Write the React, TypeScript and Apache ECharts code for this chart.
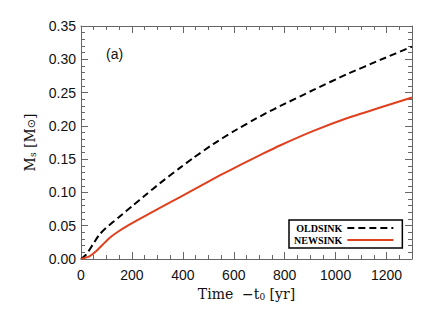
import React, { useEffect, useRef } from "react";
import * as echarts from "echarts";

// Time - t0 [yr] and sink mass [Msun]
const oldTimes = [0, 20, 46, 72, 98, 151, 204, 256, 309, 387, 440, 519, 598, 676, 729, 781, 913, 1044, 1175, 1300];
const oldMass = [0.0, 0.0065, 0.0215, 0.0365, 0.0465, 0.0635, 0.0805, 0.097, 0.1135, 0.1365, 0.1515, 0.1725, 0.1915, 0.2085, 0.2195, 0.2295, 0.254, 0.2775, 0.299, 0.319];
const newTimes = [0, 33, 59, 85, 112, 138, 190, 256, 335, 387, 466, 545, 624, 703, 781, 913, 1044, 1175, 1300];
const newMass = [0.0, 0.004, 0.0115, 0.0215, 0.0315, 0.039, 0.0515, 0.0655, 0.082, 0.0925, 0.109, 0.1255, 0.141, 0.156, 0.1705, 0.1925, 0.2115, 0.2275, 0.2425];
const seriesNames = ["OLDSINK", "NEWSINK"];
const xTicks = { min: 0, max: 1300, interval: 200 };
const yTicks = { min: 0, max: 0.35, interval: 0.05 };

const frame = "#666";
const red = "#e0401e";

export default function App() {
  const ref = useRef<HTMLDivElement>(null);
  useEffect(() => {
    if (!ref.current) return;
    const chart = echarts.init(ref.current, undefined, { renderer: "svg" });
    const tickCommon = {
      axisLine: { show: true, onZero: false, lineStyle: { color: frame, width: 1 } },
      axisTick: { show: true, inside: true, length: 7, lineStyle: { color: frame } },
      splitLine: { show: false },
    };
    const xBase = {
      type: "value" as const,
      min: xTicks.min,
      max: xTicks.max,
      interval: xTicks.interval,
      ...tickCommon,
      minorTick: { show: true, splitNumber: 4, length: 4, lineStyle: { color: frame } },
    };
    const yBase = {
      type: "value" as const,
      min: yTicks.min,
      max: yTicks.max,
      interval: yTicks.interval,
      ...tickCommon,
      minorTick: { show: true, splitNumber: 5, length: 4, lineStyle: { color: frame } },
    };
    chart.setOption({
      animation: false,
      backgroundColor: "#fff",
      grid: { left: 81, top: 26, right: 24, bottom: 53, containLabel: false },
      xAxis: [
        {
          ...xBase,
          position: "bottom",
          axisLabel: {
            show: true,
            margin: 9,
            showMaxLabel: false,
            color: "#111",
            fontFamily: "Liberation Sans",
            fontSize: 14,
            formatter: (v: number) => String(v),
          },
          name: "Time  \u2212t{s|0} [yr]",
          nameLocation: "middle",
          nameGap: 23,
          nameTextStyle: {
            fontFamily: "DejaVu Serif",
            fontSize: 14,
            color: "#111",
            rich: {
              s: { fontFamily: "DejaVu Serif", fontSize: 9, color: "#111", verticalAlign: "bottom", padding: [6, 0, 0, 0] },
            },
          },
        },
        { ...xBase, position: "top", axisLabel: { show: false } },
      ],
      yAxis: [
        {
          ...yBase,
          position: "left",
          axisLabel: {
            show: true,
            margin: 5,
            color: "#111",
            fontFamily: "Liberation Sans",
            fontSize: 14,
            formatter: (v: number) => v.toFixed(2),
          },
          name: "M{s|s} [M{o|\u2299}]",
          nameLocation: "middle",
          nameGap: 44,
          nameTextStyle: {
            fontFamily: "DejaVu Serif",
            fontSize: 14,
            color: "#111",
            rich: {
              s: { fontFamily: "DejaVu Serif", fontSize: 9, color: "#111", padding: [6, 0, 0, 0] },
              o: { fontFamily: "DejaVu Sans", fontSize: 11, color: "#111", padding: [4, 0, 0, 0] },
            },
          },
        },
        { ...yBase, position: "right", axisLabel: { show: false } },
      ],
      legend: {
        show: true,
        orient: "vertical",
        left: 289,
        top: 220,
        align: "right",
        itemWidth: 46,
        itemHeight: 10,
        itemGap: 2,
        padding: [3, 8, 3, 5],
        backgroundColor: "#fff",
        borderColor: "#000",
        borderWidth: 1.5,
        borderRadius: 0,
        itemStyle: { color: "rgba(0,0,0,0)", borderWidth: 0, opacity: 0 },
        textStyle: { fontFamily: "Liberation Serif", fontWeight: "bold", fontSize: 10, color: "#000" },
        data: seriesNames,
      },
      graphic: [
        {
          type: "text",
          left: 106,
          top: 47,
          style: { text: "(a)", fontFamily: "Liberation Sans", fontSize: 14, fill: "#111" },
        },
      ],
      series: [
        {
          name: seriesNames[0],
          type: "line",
          xAxisIndex: 0,
          yAxisIndex: 0,
          data: oldTimes.map((t, i) => [t, oldMass[i]]),
          symbol: "none",
          showSymbol: false,
          smooth: 0.2,
          lineStyle: { color: "#000", width: 2, type: [7, 4] },
          itemStyle: { color: "#000" },
        },
        {
          name: seriesNames[1],
          type: "line",
          xAxisIndex: 0,
          yAxisIndex: 0,
          data: newTimes.map((t, i) => [t, newMass[i]]),
          symbol: "none",
          showSymbol: false,
          smooth: 0.2,
          lineStyle: { color: red, width: 2 },
          itemStyle: { color: red },
        },
      ],
    });
    return () => chart.dispose();
  }, []);
  return (
    <div
      ref={ref}
      style={{ position: "absolute", left: 0, top: 0, width: 436, height: 312 }}
    />
  );
}
